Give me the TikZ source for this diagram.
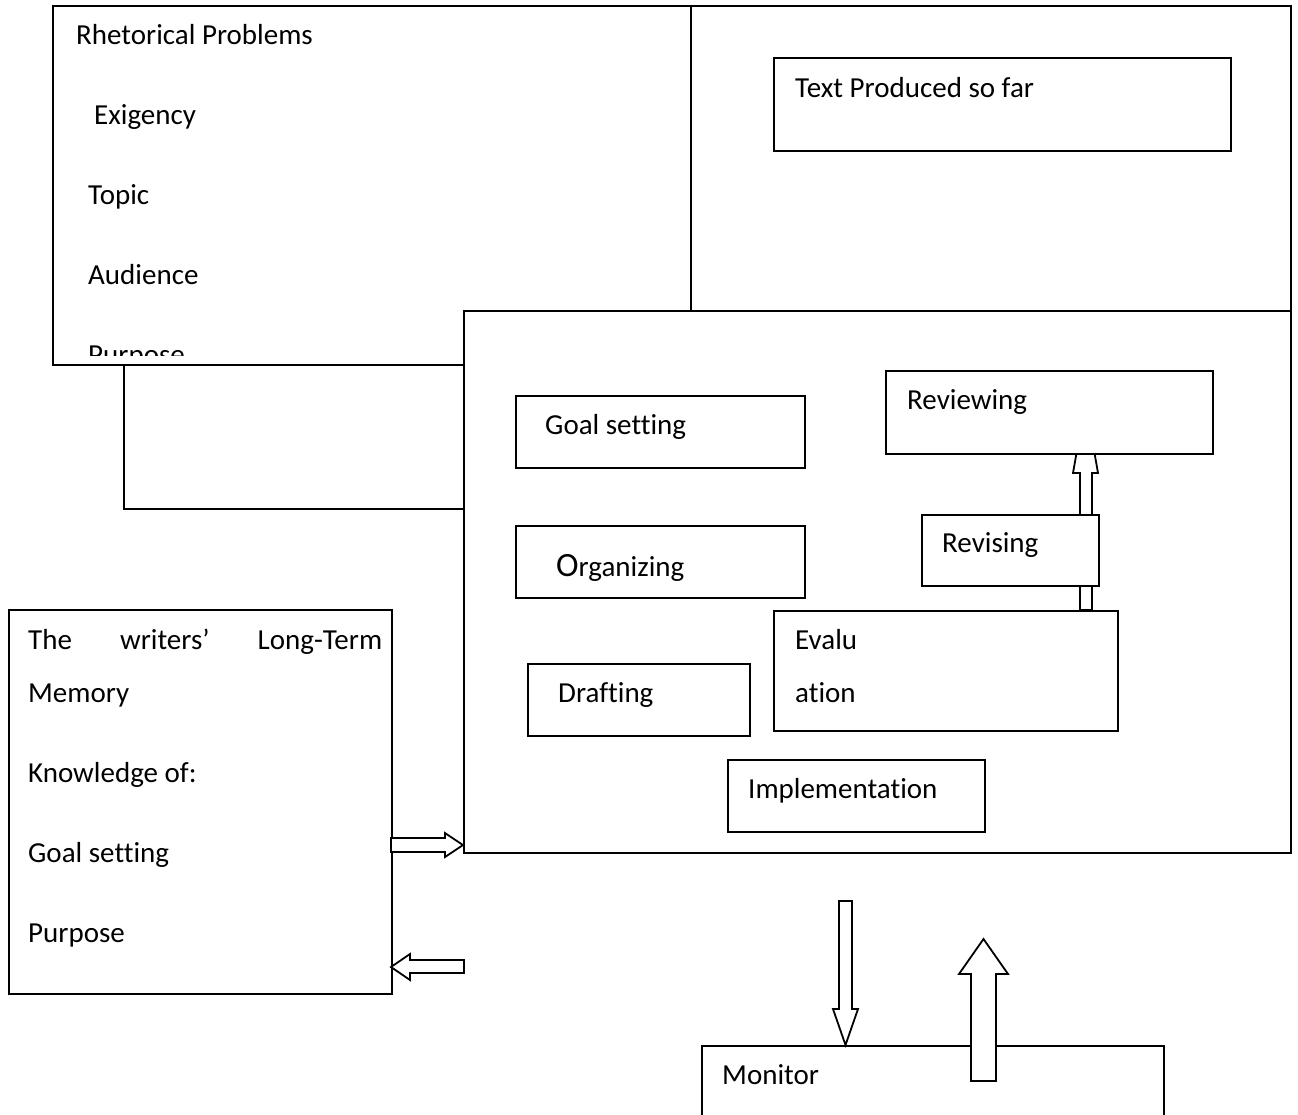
\documentclass[tikz,border=0pt]{standalone}
\usepackage{fontspec}
\setmainfont[Ligatures=NoCommon]{Carlito}
\begin{document}
\begin{tikzpicture}[x=1pt,y=-1pt,
  box/.style={draw, line width=1.8pt, fill=white, rectangle, inner sep=0pt, anchor=north west},
  txt/.style={anchor=mid west, inner sep=0pt, font=\fontsize{29}{35}\selectfont},
  barrow/.style={draw, line width=1.8pt, fill=white, line join=miter}]
\useasboundingbox (0,0) rectangle (1298,1115);
\clip (0,0) rectangle (1298,1115);

% back box
\node[box, minimum width=340pt, minimum height=144pt] (back) at (123,364) {};
% rhetorical problems
\node[box, minimum width=638pt, minimum height=359pt] (rhet) at (52,5) {};
\begin{scope}
\clip (52,5) rectangle (690,355);
\node[txt] (rhetT) at (76,42) {Rhetorical Problems};
\node[txt] (exig) at (94,122) {Exigency};
\node[txt] (topic) at (88,202) {Topic};
\node[txt] (aud) at (88,282) {Audience};
\node[txt] (purp) at (88,362) {Purpose};
\end{scope}
% task environment
\node[box, minimum width=600pt, minimum height=305pt] (task) at (690,5) {};
\node[box, minimum width=457pt, minimum height=93pt] (tpsf) at (773,57) {};
\node[txt] (tpsfT) at (795,95) {Text Produced so far};

% writing process
\node[box, minimum width=827pt, minimum height=542pt] (wp) at (463,310) {};
\node[box, minimum width=289pt, minimum height=72pt] (goal) at (515,395) {};
\node[txt] (goalT) at (545,432) {Goal setting};
\node[box, minimum width=289pt, minimum height=72pt] (org) at (515,525) {};
\node[txt] (orgT) at (556,574) {{\fontsize{34}{38}\selectfont O}rganizing};

% arrow evaluation -> reviewing
\draw[barrow] (1080,610) -- (1080,473) -- (1073,473) -- (1085.5,402) -- (1098,473) -- (1092,473) -- (1092,610) -- cycle;

\node[box, minimum width=327pt, minimum height=83pt] (review) at (885,370) {};
\node[txt] (reviewT) at (907,407) {Reviewing};
\node[box, minimum width=177pt, minimum height=71pt] (revis) at (921,514) {};
\node[txt] (revisT) at (942,550) {Revising};
\node[box, minimum width=344pt, minimum height=120pt] (eval) at (773,610) {};
\node[txt] (evalT1) at (795,647) {Evalu};
\node[txt] (evalT2) at (795,700) {ation};
\node[box, minimum width=222pt, minimum height=72pt] (draft) at (527,663) {};
\node[txt] (draftT) at (558,700) {Drafting};
\node[box, minimum width=257pt, minimum height=72pt] (impl) at (727,759) {};
\node[txt] (implT) at (748,796) {Implementation};

% long-term memory
\node[box, minimum width=383pt, minimum height=384pt] (ltm) at (8,609) {};
\node[txt, text width=354pt, align=justify] (ltm1) at (28,647) {The\hfill writers’\hfill Long-Term};
\node[txt] (ltm2) at (28,700) {Memory};
\node[txt] (ltm3) at (28,780) {Knowledge of:};
\node[txt] (ltm4) at (28,860) {Goal setting};
\node[txt] (ltm5) at (28,940) {Purpose};

% arrows between LTM and writing process
\draw[barrow] (391,838) -- (445,838) -- (445,833) -- (463,845) -- (445,857) -- (445,852) -- (391,852) -- cycle;
\draw[barrow] (464,960) -- (410,960) -- (410,954) -- (391,967) -- (410,980) -- (410,973) -- (464,973) -- cycle;

% monitor
\node[box, minimum width=462pt, minimum height=100pt] (mon) at (701,1045) {};
\node[txt] (monT) at (722,1082) {Monitor};
\draw[barrow] (839,901) -- (852,901) -- (852,1009) -- (858,1009) -- (845.5,1045) -- (833,1009) -- (839,1009) -- cycle;
\draw[barrow] (971,1081) -- (971,974) -- (959,974) -- (983.5,939) -- (1008,974) -- (996,974) -- (996,1081) -- cycle;
\end{tikzpicture}
\end{document}
